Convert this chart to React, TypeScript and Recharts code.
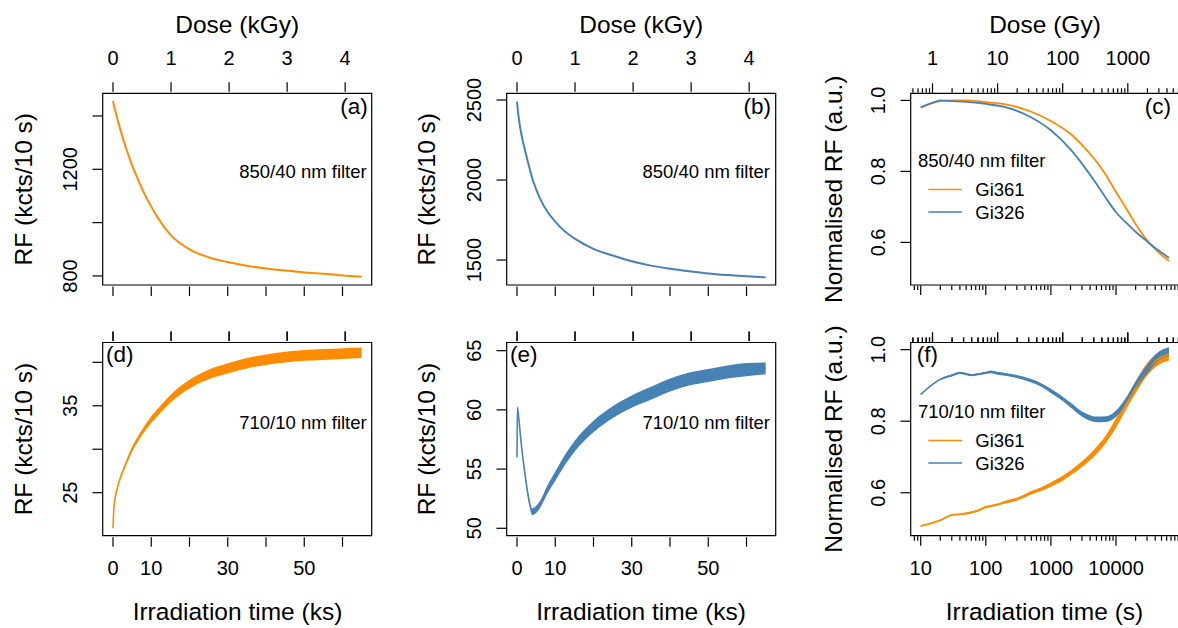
import React from 'react';
import { Area, ComposedChart, Legend, Line, ReferenceArea, XAxis, YAxis } from 'recharts';

const ORANGE = '#ff8c00';
const BLUE = '#4682b4';
const FONT = '"Liberation Sans", Arial, Helvetica, sans-serif';
const DOSE_RATE = 0.0659; // Gy per s, i.e. kGy per ks

// (a) and (b): 850/40 nm filter, irradiation time in ks
const timeKs = [0, 0.5, 1, 2, 3, 4, 5, 6, 8, 10, 12, 15, 20, 25, 30, 35, 40, 45, 50, 55, 60, 65];
const rfGi361_850 = [1456, 1425, 1397, 1345, 1298, 1255, 1215, 1180, 1115, 1060, 1012, 955, 900, 870, 852, 838, 828, 820, 813, 808, 802, 797];
const rfGi326_850 = [2490, 2380, 2305, 2195, 2100, 2010, 1943, 1885, 1800, 1740, 1690, 1635, 1570, 1528, 1492, 1465, 1445, 1430, 1416, 1406, 1398, 1392];

// (d): 710/10 nm filter, Gi361
const timeKsGi361_710 = [0, 0.2, 0.5, 1, 2, 3, 4, 5, 6, 8, 10, 12, 15, 20, 25, 30, 35, 40, 45, 50, 55, 60, 65];
const rfGi361_710 = [20.9, 23.0, 24.2, 25.3, 26.8, 27.9, 29.0, 30.0, 30.8, 32.2, 33.4, 34.4, 35.8, 37.5, 38.6, 39.3, 39.9, 40.3, 40.6, 40.8, 40.9, 41.0, 41.1];
const noiseGi361_710 = [0.05, 0.1, 0.12, 0.15, 0.2, 0.22, 0.25, 0.28, 0.3, 0.33, 0.38, 0.4, 0.45, 0.5, 0.55, 0.58, 0.6, 0.6, 0.62, 0.62, 0.62, 0.62, 0.6];

// (e): 710/10 nm filter, Gi326
const timeKsGi326_710 = [0, 0.1, 0.5, 1, 2, 3, 4, 5, 6, 8, 10, 12, 15, 20, 25, 30, 35, 40, 45, 50, 55, 60, 65];
const rfGi326_710 = [56.0, 60.2, 59.2, 57.5, 54.8, 52.6, 51.4, 51.6, 52.0, 53.3, 54.4, 55.5, 56.9, 58.6, 59.8, 60.7, 61.4, 62.1, 62.6, 62.9, 63.2, 63.4, 63.5];
const noiseGi326_710 = [0.05, 0.1, 0.15, 0.15, 0.18, 0.22, 0.28, 0.3, 0.3, 0.35, 0.4, 0.42, 0.45, 0.48, 0.5, 0.52, 0.55, 0.55, 0.55, 0.55, 0.55, 0.55, 0.5];

// (c): normalised, 850/40 nm filter, time in s
const timeS_850 = [10, 15, 20, 30, 50, 100, 200, 500, 1000, 2000, 3000, 5000, 7000, 10000, 15000, 20000, 30000, 45000, 65000];
const normGi361_850 = [0.98, 0.992, 0.998, 1.0, 1.0, 0.995, 0.989, 0.968, 0.942, 0.906, 0.875, 0.828, 0.79, 0.742, 0.69, 0.652, 0.606, 0.572, 0.548];
const normGi326_850 = [0.98, 0.993, 1.0, 0.998, 0.996, 0.99, 0.981, 0.952, 0.916, 0.862, 0.822, 0.765, 0.725, 0.685, 0.652, 0.63, 0.603, 0.577, 0.557];

// (f): normalised, 710/10 nm filter, time in s
const timeS_710 = [10, 20, 30, 40, 60, 80, 100, 120, 150, 200, 300, 500, 700, 1000, 1500, 2000, 3000, 4000, 5000, 7000, 10000, 15000, 20000, 30000, 45000, 65000];
const normGi361_710 = [0.507, 0.523, 0.538, 0.54, 0.545, 0.552, 0.56, 0.563, 0.567, 0.574, 0.582, 0.6, 0.61, 0.623, 0.64, 0.655, 0.68, 0.7, 0.718, 0.75, 0.795, 0.855, 0.895, 0.945, 0.975, 0.988];
const normGi326_710 = [0.875, 0.917, 0.928, 0.935, 0.929, 0.932, 0.935, 0.938, 0.934, 0.931, 0.925, 0.913, 0.902, 0.885, 0.863, 0.845, 0.82, 0.809, 0.805, 0.806, 0.821, 0.862, 0.9, 0.945, 0.982, 0.995];
const noiseNormGi361_710 = [0.002, 0.002, 0.002, 0.002, 0.003, 0.003, 0.003, 0.003, 0.003, 0.004, 0.004, 0.005, 0.005, 0.006, 0.007, 0.007, 0.008, 0.009, 0.01, 0.011, 0.013, 0.015, 0.017, 0.018, 0.018, 0.018];
const noiseNormGi326_710 = [0.002, 0.002, 0.003, 0.003, 0.003, 0.003, 0.003, 0.004, 0.004, 0.004, 0.004, 0.005, 0.005, 0.006, 0.006, 0.007, 0.007, 0.008, 0.008, 0.008, 0.009, 0.01, 0.011, 0.012, 0.012, 0.012];

// ticks and labels
const timeTicksKs = [0, 10, 20, 30, 40, 50, 60];
const timeLabelsKs = [0, 10, 30, 50];
const doseTicksKGy = [0, 1, 2, 3, 4];
const decades = [0.1, 1, 10, 100, 1000, 10000];
const logTimeLabels = [10, 100, 1000, 10000];
const logDoseLabels = [1, 10, 100, 1000];
const rfTicks850a = [800, 1000, 1200, 1400];
const rfLabels850a = [800, 1200];
const rfTicks850b = [1500, 2000, 2500];
const rfTicks710d = [25, 30, 35, 40];
const rfLabels710d = [25, 35];
const rfTicks710e = [50, 55, 60, 65];
const normTicks = [0.6, 0.8, 1.0];
const legendOrder = ['Gi361', 'Gi326'];

const LIN_X: [number, number] = [-2.69, 67.63];
const LOG_X: [number, number] = [7.02, 101400];

const logTicksWithin = (lo: number, hi: number) =>
  decades.flatMap((d) => [1, 2, 3, 4, 5, 6, 7, 8, 9].map((m) => +(m * d).toPrecision(6))).filter((v) => v >= lo && v <= hi);

const TICK = 9.5;
const MINOR = 4.5;

const same = (a: number, b: number) => Math.abs(a - b) < 1e-6 * Math.max(1, Math.abs(a));
const toDose = (t: number) => +(t * DOSE_RATE).toPrecision(6);
const isDecade = (v: number) => Math.abs(Math.log10(v) - Math.round(Math.log10(v))) < 1e-6;

function tickMark(key: string, x: number, y: number, dir: 1 | -1, v: number, labels: number[], log: boolean, labelDy: number) {
  const len = !log || isDecade(v) ? TICK : MINOR;
  const gap = log ? 0.5 : 1.5;
  const show = labels.some((l) => same(l, v));
  return (
    <g key={key}>
      <line x1={x} x2={x} y1={y + dir * gap} y2={y + dir * (gap + len)} stroke="#000" strokeWidth={1.2} />
      {show && (
        <text x={x} y={y + labelDy} textAnchor="middle" fontSize={20} fontFamily={FONT} fill="#000">
          {v}
        </text>
      )}
    </g>
  );
}

// one time axis carries both scales: time ticks below the box, dose ticks (at time = dose / rate) above it
function timeDoseTick(timeTicks: number[], timeLabels: number[], doseTimes: number[], doseLabels: number[], log: boolean, plotH: number) {
  return (props: any) => {
    const { x, y, payload } = props;
    const t = payload.value as number;
    return (
      <g>
        {timeTicks.some((v) => same(v, t)) && tickMark('time', x, y, 1, t, timeLabels, log, 39.3)}
        {doseTimes.some((v) => same(v, t)) && tickMark('dose', x, y - plotH, -1, toDose(t), doseLabels, log, -28.3)}
      </g>
    );
  };
}

function yTick(labels: number[], fmt: (v: number) => string) {
  return (props: any) => {
    const { x, y, payload } = props;
    const v = payload.value as number;
    const bx = x - 26;
    const show = labels.some((l) => same(l, v));
    return (
      <g>
        <line x1={x - 0.7} x2={x - 0.7 - TICK} y1={y} y2={y} stroke="#000" strokeWidth={1.2} />
        {show && (
          <text x={bx} y={y} transform={`rotate(-90 ${bx} ${y})`} textAnchor="middle" fontSize={20} fontFamily={FONT} fill="#000">
            {fmt(v)}
          </text>
        )}
      </g>
    );
  };
}

const legendContent = (title: string) => (props: any) => {
  const seen = new Set<string>();
  const items = (props.payload ?? [])
    .filter((it: any) => legendOrder.includes(it.value))
    .filter((it: any) => (seen.has(it.value) ? false : (seen.add(it.value), true)))
    .sort((a: any, b: any) => legendOrder.indexOf(a.value) - legendOrder.indexOf(b.value));
  return (
    <svg width={170} height={80} style={{ display: 'block', overflow: 'visible' }}>
      <text x={0} y={16.7} fontSize={18.5} fontFamily={FONT} fill="#000">{title}</text>
      {items.map((it: any, i: number) => (
        <g key={it.value}>
          <line x1={10.3} x2={44} y1={39.5 + i * 22.5} y2={39.5 + i * 22.5} stroke={it.color} strokeWidth={1.6} />
          <text x={57.3} y={46.2 + i * 22.5} fontSize={18.5} fontFamily={FONT} fill="#000">{it.value}</text>
        </g>
      ))}
    </svg>
  );
};

type Series = { key: string; name?: string; color: string; width: number; band?: string };

interface PanelProps {
  rows: any[];
  box: { left: number; top: number; right: number; bottom: number };
  width?: number;
  log?: boolean;
  xDomain: [number, number];
  xTicks: number[];
  xLabels: number[];
  doseTicks: number[];
  doseLabels: number[];
  yDomain: [number, number];
  yTicks: number[];
  yLabels: number[];
  yFmt?: (v: number) => string;
  series: Series[];
  legendTitle?: string;
  legendTop?: number;
}

function Panel(p: PanelProps) {
  const W = p.width ?? 1178;
  const H = 628;
  // the axes get 1px of room each (a zero-sized axis is not drawn)
  const margin = { top: p.box.top, left: p.box.left - 1, right: W - p.box.right, bottom: H - p.box.bottom - 1 };
  const scale = p.log ? 'log' : 'linear';
  const fmt = p.yFmt ?? ((v: number) => String(v));
  const doseTimes = p.doseTicks.map((d) => d / DOSE_RATE);
  const allTicks = Array.from(new Set([...p.xTicks, ...doseTimes])).sort((a, b) => a - b);
  const plotH = p.box.bottom - p.box.top;
  return (
    <div style={{ position: 'absolute', left: 0, top: 0 }}>
      <ComposedChart width={W} height={H} data={p.rows} margin={margin}>
        <XAxis
          dataKey="t"
          type="number"
          scale={scale}
          domain={p.xDomain}
          allowDataOverflow
          ticks={allTicks}
          interval={0}
          height={1}
          axisLine={false}
          tickLine={false}
          tickSize={0}
          tickMargin={0}
          tick={timeDoseTick(p.xTicks, p.xLabels, doseTimes, p.doseLabels, !!p.log, plotH)}
        />
        <YAxis
          type="number"
          domain={p.yDomain}
          allowDataOverflow
          ticks={p.yTicks}
          interval={0}
          width={1}
          axisLine={false}
          tickLine={false}
          tickSize={0}
          tickMargin={0}
          tick={yTick(p.yLabels, fmt)}
        />
        <ReferenceArea
          x1={p.xDomain[0]}
          x2={p.xDomain[1]}
          y1={p.yDomain[0]}
          y2={p.yDomain[1]}
          fill="none"
          fillOpacity={0}
          stroke="#000"
          strokeWidth={1.2}
          ifOverflow="visible"
        />
        {p.series
          .filter((s) => s.band)
          .map((s) => (
            <Area
              key={s.band}
              dataKey={s.band as string}
              type="monotone"
              stroke="none"
              fill={s.color}
              fillOpacity={1}
              legendType="none"
              dot={false}
              activeDot={false}
              isAnimationActive={false}
            />
          ))}
        {p.series.map((s) => (
          <Line
            key={s.key}
            dataKey={s.key}
            name={s.name ?? s.key}
            type="monotone"
            stroke={s.color}
            strokeWidth={s.width}
            dot={false}
            activeDot={false}
            isAnimationActive={false}
          />
        ))}
        {p.legendTitle && (
          <Legend
            layout="horizontal"
            verticalAlign="middle"
            align="center"
            wrapperStyle={{ left: p.box.left + 7, top: p.legendTop, width: 170, height: 80 }}
            content={legendContent(p.legendTitle)}
          />
        )}
      </ComposedChart>
    </div>
  );
}

const rowsA = timeKs.map((t, i) => ({ t, rf: rfGi361_850[i] }));
const rowsB = timeKs.map((t, i) => ({ t, rf: rfGi326_850[i] }));
const rowsC = timeS_850.map((t, i) => ({ t, gi361: normGi361_850[i], gi326: normGi326_850[i] }));
const rowsD = timeKsGi361_710.map((t, i) => ({
  t,
  rf: rfGi361_710[i],
  band: [rfGi361_710[i] - noiseGi361_710[i], rfGi361_710[i] + noiseGi361_710[i]],
}));
const rowsE = timeKsGi326_710.map((t, i) => ({
  t,
  rf: rfGi326_710[i],
  band: [rfGi326_710[i] - noiseGi326_710[i], rfGi326_710[i] + noiseGi326_710[i]],
}));
const rowsF = timeS_710.map((t, i) => ({
  t,
  gi361: normGi361_710[i],
  gi326: normGi326_710[i],
  band361: [normGi361_710[i] - noiseNormGi361_710[i], normGi361_710[i] + noiseNormGi361_710[i]],
  band326: [normGi326_710[i] - noiseNormGi326_710[i], normGi326_710[i] + noiseNormGi326_710[i]],
}));

const ROW1 = { top: 93.3, bottom: 285 };
const ROW2 = { top: 342.5, bottom: 535.7 };
const COL1 = { left: 102.7, right: 371.7 };
const COL2 = { left: 506.7, right: 775.7 };
const COL3 = { left: 910.7, right: 1181.5 };

const logTimeTicks = logTicksWithin(LOG_X[0], LOG_X[1]);
const logDoseTicks = logTicksWithin(LOG_X[0] * DOSE_RATE, LOG_X[1] * DOSE_RATE);
const oneDecimal = (v: number) => v.toFixed(1);

// unlabelled dose ticks on top of the lower row, mapped with the same domain and pixel range as the time axis above
const lowerDoseTicks: { col: { left: number; right: number }; domain: [number, number]; doses: number[]; log: boolean }[] = [
  { col: COL1, domain: LIN_X, doses: doseTicksKGy, log: false },
  { col: COL2, domain: LIN_X, doses: doseTicksKGy, log: false },
  { col: COL3, domain: LOG_X, doses: logDoseTicks, log: true },
];
const xOnAxis = (t: number, col: { left: number; right: number }, domain: [number, number], log: boolean) => {
  const f = log ? Math.log10 : (v: number) => v;
  return col.left + ((f(t) - f(domain[0])) / (f(domain[1]) - f(domain[0]))) * (col.right - col.left);
};

const T = (props: any) => <text fontFamily={FONT} fill="#000" {...props} />;
const VT = ({ x, y, children, size }: any) => (
  <text x={x} y={y} transform={`rotate(-90 ${x} ${y})`} textAnchor="middle" fontSize={size} fontFamily={FONT} fill="#000">
    {children}
  </text>
);

export default function App() {
  return (
    <div style={{ position: 'absolute', left: 0, top: 0, width: 1178, height: 628, overflow: 'hidden', background: '#fff', fontFamily: FONT }}>
      <Panel
        rows={rowsA}
        box={{ ...ROW1, ...COL1 }}
        xDomain={LIN_X}
        xTicks={timeTicksKs}
        xLabels={[]}
        doseTicks={doseTicksKGy}
        doseLabels={doseTicksKGy}
        yDomain={[766, 1485]}
        yTicks={rfTicks850a}
        yLabels={rfLabels850a}
        series={[{ key: 'rf', name: 'Gi361', color: ORANGE, width: 2 }]}
      />
      <Panel
        rows={rowsB}
        box={{ ...ROW1, ...COL2 }}
        xDomain={LIN_X}
        xTicks={timeTicksKs}
        xLabels={[]}
        doseTicks={doseTicksKGy}
        doseLabels={doseTicksKGy}
        yDomain={[1344, 2542]}
        yTicks={rfTicks850b}
        yLabels={rfTicks850b}
        series={[{ key: 'rf', name: 'Gi326', color: BLUE, width: 2 }]}
      />
      <Panel
        rows={rowsC}
        box={{ ...ROW1, ...COL3 }}
        width={1200}
        log
        xDomain={LOG_X}
        xTicks={logTimeTicks}
        xLabels={[]}
        doseTicks={logDoseTicks}
        doseLabels={logDoseLabels}
        yDomain={[0.48, 1.02]}
        yTicks={normTicks}
        yLabels={normTicks}
        yFmt={oneDecimal}
        series={[
          { key: 'gi361', name: 'Gi361', color: ORANGE, width: 1.8 },
          { key: 'gi326', name: 'Gi326', color: BLUE, width: 1.8 },
        ]}
        legendTitle="850/40 nm filter"
        legendTop={150}
      />
      <Panel
        rows={rowsD}
        box={{ ...ROW2, ...COL1 }}
        xDomain={LIN_X}
        xTicks={timeTicksKs}
        xLabels={timeLabelsKs}
        doseTicks={doseTicksKGy}
        doseLabels={[]}
        yDomain={[20.05, 42.28]}
        yTicks={rfTicks710d}
        yLabels={rfLabels710d}
        series={[{ key: 'rf', name: 'Gi361', color: ORANGE, width: 1.6, band: 'band' }]}
      />
      <Panel
        rows={rowsE}
        box={{ ...ROW2, ...COL2 }}
        xDomain={LIN_X}
        xTicks={timeTicksKs}
        xLabels={timeLabelsKs}
        doseTicks={doseTicksKGy}
        doseLabels={[]}
        yDomain={[49.375, 65.69]}
        yTicks={rfTicks710e}
        yLabels={rfTicks710e}
        series={[{ key: 'rf', name: 'Gi326', color: BLUE, width: 1.6, band: 'band' }]}
      />
      <Panel
        rows={rowsF}
        box={{ ...ROW2, ...COL3 }}
        width={1200}
        log
        xDomain={LOG_X}
        xTicks={logTimeTicks}
        xLabels={logTimeLabels}
        doseTicks={logDoseTicks}
        doseLabels={[]}
        yDomain={[0.48, 1.02]}
        yTicks={normTicks}
        yLabels={normTicks}
        yFmt={oneDecimal}
        series={[
          { key: 'gi361', name: 'Gi361', color: ORANGE, width: 1.6, band: 'band361' },
          { key: 'gi326', name: 'Gi326', color: BLUE, width: 1.6, band: 'band326' },
        ]}
        legendTitle="710/10 nm filter"
        legendTop={400.6}
      />
      <svg width={1178} height={628} style={{ position: 'absolute', left: 0, top: 0, pointerEvents: 'none' }}>
        {lowerDoseTicks.flatMap(({ col, domain, doses, log }, k) =>
          doses.map((d) => {
            const x = xOnAxis(d / DOSE_RATE, col, domain, log);
            const gap = log ? 0.5 : 1.5;
            const len = !log || isDecade(d) ? TICK : MINOR;
            return <line key={`${k}-${d}`} x1={x} x2={x} y1={ROW2.top - gap} y2={ROW2.top - gap - len} stroke="#000" strokeWidth={1.2} />;
          }),
        )}
        <T x={237.2} y={33.3} textAnchor="middle" fontSize={24.5}>Dose (kGy)</T>
        <T x={641.2} y={33.3} textAnchor="middle" fontSize={24.5}>Dose (kGy)</T>
        <T x={1045} y={33.3} textAnchor="middle" fontSize={24.5}>Dose (Gy)</T>
        <T x={237.5} y={620} textAnchor="middle" fontSize={24.5}>Irradiation time (ks)</T>
        <T x={641} y={620} textAnchor="middle" fontSize={24.5}>Irradiation time (ks)</T>
        <T x={1044.5} y={620} textAnchor="middle" fontSize={24.5}>Irradiation time (s)</T>
        <VT x={31.7} y={189.2} size={24.5}>RF (kcts/10 s)</VT>
        <VT x={435} y={189.2} size={24.5}>RF (kcts/10 s)</VT>
        <VT x={841.7} y={189.2} size={24.5}>Normalised RF (a.u.)</VT>
        <VT x={31.7} y={439.1} size={24.5}>RF (kcts/10 s)</VT>
        <VT x={435} y={439.1} size={24.5}>RF (kcts/10 s)</VT>
        <VT x={841.7} y={439.1} size={24.5}>Normalised RF (a.u.)</VT>
        <T x={367.7} y={114} textAnchor="end" fontSize={22.5}>(a)</T>
        <T x={771} y={114} textAnchor="end" fontSize={22.5}>(b)</T>
        <T x={1171} y={114} textAnchor="end" fontSize={22.5}>(c)</T>
        <T x={106} y={362} fontSize={22.5}>(d)</T>
        <T x={510} y={362} fontSize={22.5}>(e)</T>
        <T x={916.7} y={362} fontSize={22.5}>(f)</T>
        <T x={366.7} y={178.3} textAnchor="end" fontSize={18.5}>850/40 nm filter</T>
        <T x={770} y={178.3} textAnchor="end" fontSize={18.5}>850/40 nm filter</T>
        <T x={366.7} y={429} textAnchor="end" fontSize={18.5}>710/10 nm filter</T>
        <T x={770} y={429} textAnchor="end" fontSize={18.5}>710/10 nm filter</T>
      </svg>
    </div>
  );
}
